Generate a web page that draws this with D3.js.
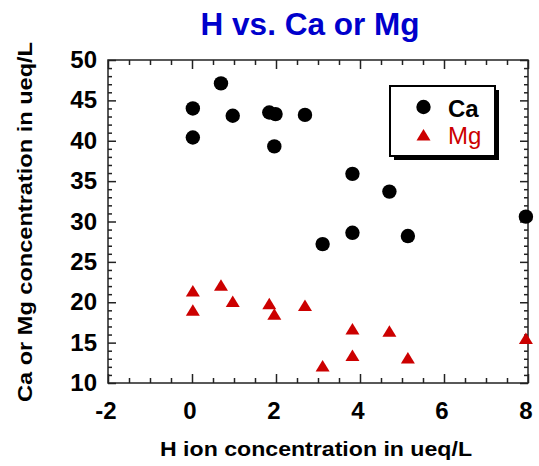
<!DOCTYPE html>
<html>
<head>
<meta charset="utf-8">
<script src="https://cdn.jsdelivr.net/npm/d3@7"></script>
<style>
  html, body { margin: 0; padding: 0; background: #fff; }
  svg { display: block; font-family: "Liberation Sans", Arial, Helvetica, sans-serif; }
</style>
</head>
<body>
<svg id="chart" width="539" height="466"></svg>
<script>
// H ion concentration (ueq/L) for each calcium sample
const caH = [0.02, 0.69, 0.97, 1.84, 1.99, 2.69, 0.02, 1.96, 3.82, 4.70, 7.95, 3.82, 5.14, 3.11];
const caValues = [44.0, 47.1, 43.1, 43.5, 43.3, 43.2, 40.4, 39.3, 35.9, 33.7, 30.6, 28.6, 28.2, 27.2];

// H ion concentration (ueq/L) for each magnesium sample
const mgH = [0.02, 0.69, 0.97, 1.84, 1.96, 2.69, 0.02, 3.82, 4.70, 7.95, 3.82, 5.14, 3.11];
const mgValues = [21.4, 22.1, 20.1, 19.8, 18.5, 19.6, 19.0, 16.7, 16.4, 15.5, 13.4, 13.1, 12.1];

const xTicks = [-2, 0, 2, 4, 6, 8];
const yTicks = [10, 15, 20, 25, 30, 35, 40, 45, 50];
const seriesNames = ["Ca", "Mg"];

const svg = d3.select("#chart");
const plotLeft = 108, plotRight = 528, plotTop = 60, plotBottom = 383;

const x = d3.scaleLinear().domain([-2, 8]).range([plotLeft, plotRight]);
const y = d3.scaleLinear().domain([10, 50]).range([plotBottom, plotTop]);

const xMinor = d3.range(-2, 8.001, 0.5).filter(v => !xTicks.includes(v));
const yMinor = d3.range(10, 50.001, 1).filter(v => !yTicks.includes(v));

// Title
svg.append("text")
  .attr("x", 310).attr("y", 35)
  .attr("text-anchor", "middle")
  .attr("font-size", 31.5).attr("font-weight", "bold")
  .attr("fill", "#0000cc")
  .text("H vs. Ca or Mg");

// Inward ticks on all four sides
const tickColor = "#222";
function addTicks(axisGen, transform) {
  const g = svg.append("g").attr("transform", transform).call(axisGen);
  g.select(".domain").remove();
  g.selectAll("text").remove();
  g.selectAll("line").attr("stroke", tickColor).attr("stroke-width", 1.5);
}
addTicks(d3.axisBottom(x).tickValues(xTicks).tickSize(-9), `translate(0,${plotBottom})`);
addTicks(d3.axisBottom(x).tickValues(xMinor).tickSize(-5), `translate(0,${plotBottom})`);
addTicks(d3.axisTop(x).tickValues(xTicks).tickSize(-9), `translate(0,${plotTop})`);
addTicks(d3.axisTop(x).tickValues(xMinor).tickSize(-5), `translate(0,${plotTop})`);
addTicks(d3.axisLeft(y).tickValues(yTicks).tickSize(-8), `translate(${plotLeft},0)`);
addTicks(d3.axisLeft(y).tickValues(yMinor).tickSize(-4), `translate(${plotLeft},0)`);
addTicks(d3.axisRight(y).tickValues(yTicks).tickSize(-8), `translate(${plotRight},0)`);
addTicks(d3.axisRight(y).tickValues(yMinor).tickSize(-4), `translate(${plotRight},0)`);

// Frame
svg.append("rect")
  .attr("x", plotLeft).attr("y", plotTop)
  .attr("width", plotRight - plotLeft).attr("height", plotBottom - plotTop)
  .attr("fill", "none").attr("stroke", tickColor).attr("stroke-width", 1.5);

// Tick labels
svg.append("g").selectAll("text").data(xTicks).join("text")
  .attr("x", d => x(d) - 2).attr("y", 419)
  .attr("text-anchor", "middle")
  .attr("font-size", 24).attr("font-weight", "bold")
  .text(d => d);

svg.append("g").selectAll("text").data(yTicks).join("text")
  .attr("x", 97).attr("y", d => y(d) + 8)
  .attr("text-anchor", "end")
  .attr("font-size", 24).attr("font-weight", "bold")
  .text(d => d);

// Axis titles
svg.append("text")
  .attr("x", 316).attr("y", 456)
  .attr("text-anchor", "middle")
  .attr("font-size", 21).attr("font-weight", "bold")
  .attr("textLength", 312).attr("lengthAdjust", "spacingAndGlyphs")
  .text("H ion concentration in ueq/L");

svg.append("text")
  .attr("transform", "translate(32,222) rotate(-90)")
  .attr("text-anchor", "middle")
  .attr("font-size", 21).attr("font-weight", "bold")
  .attr("textLength", 360).attr("lengthAdjust", "spacingAndGlyphs")
  .text("Ca or Mg concentration in ueq/L");

// Markers
const triPath = "M0,-6L7,5.5L-7,5.5Z";

svg.append("g").selectAll("path").data(mgH.map((h, i) => [h, mgValues[i]])).join("path")
  .attr("transform", d => `translate(${x(d[0])},${y(d[1])})`)
  .attr("d", triPath)
  .attr("fill", "#cc0000");

svg.append("g").selectAll("circle").data(caH.map((h, i) => [h, caValues[i]])).join("circle")
  .attr("cx", d => x(d[0])).attr("cy", d => y(d[1]))
  .attr("r", 7.2)
  .attr("fill", "#000");

// Legend
const lg = svg.append("g");
lg.append("rect").attr("x", 394).attr("y", 90).attr("width", 105).attr("height", 70).attr("fill", "#000");
lg.append("rect").attr("x", 390).attr("y", 86).attr("width", 105).attr("height", 70)
  .attr("fill", "#fff").attr("stroke", "#000").attr("stroke-width", 2);
lg.append("circle").attr("cx", 423.5).attr("cy", 107).attr("r", 7.2).attr("fill", "#000");
lg.append("path").attr("transform", "translate(423.5,135)").attr("d", triPath).attr("fill", "#cc0000");
lg.append("text").attr("x", 448).attr("y", 116.5)
  .attr("font-size", 24).attr("font-weight", "bold").attr("fill", "#000")
  .text(seriesNames[0]);
lg.append("text").attr("x", 448).attr("y", 143.5)
  .attr("font-size", 24).attr("fill", "#cc0000")
  .text(seriesNames[1]);
</script>
</body>
</html>
